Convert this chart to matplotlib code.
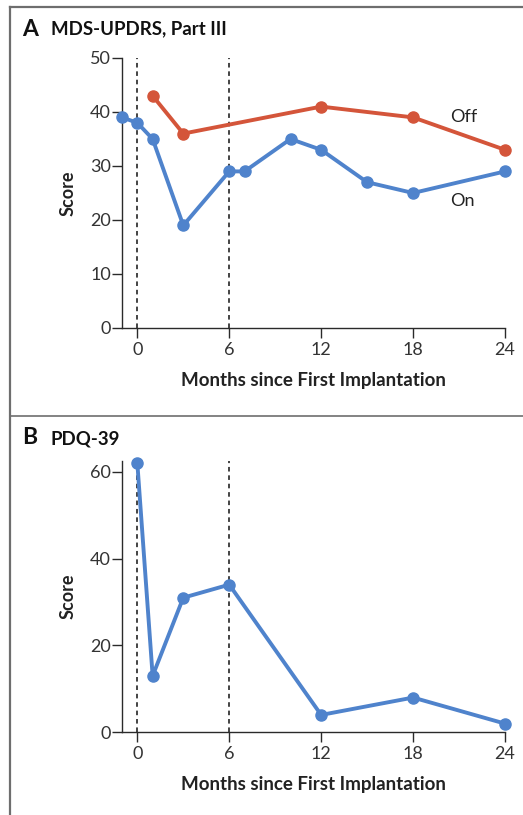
import matplotlib
matplotlib.use("Agg")
import matplotlib.pyplot as plt
from matplotlib.lines import Line2D

plt.rcParams['font.family'] = ['Lato', 'DejaVu Sans']

# Panel A data
a_on_months = [-1, 0, 1, 3, 6, 7, 10, 12, 15, 18, 24]
a_on_scores = [39, 38, 35, 19, 29, 29, 35, 33, 27, 25, 29]
a_off_months = [1, 3, 12, 18, 24]
a_off_scores = [43, 36, 41, 39, 33]
a_yticks = [0, 10, 20, 30, 40, 50]

# Panel B data
b_months = [0, 1, 3, 6, 12, 18, 24]
b_scores = [62, 13, 31, 34, 4, 8, 2]
b_yticks = [0, 20, 40, 60]

xticks = [0, 6, 12, 18, 24]
vlines = [0, 6]

BLUE = '#4f83cc'
RED = '#d4553a'
DARK = '#2a2a2a'
BORDER = '#6e6e6e'

W, H = 523, 815
fig = plt.figure(figsize=(W / 100, H / 100), dpi=100)

def fx(px):
    return px / W

def fy(py):
    return 1 - py / H

# Figure frame lines
fig.add_artist(Line2D([fx(10), 1], [fy(7), fy(7)], color=BORDER, lw=1.6))
fig.add_artist(Line2D([fx(10), fx(10)], [fy(7), 0], color=BORDER, lw=1.6))
fig.add_artist(Line2D([fx(10), 1], [fy(416), fy(416)], color=BORDER, lw=1.2))

def style_axes(ax, yticks):
    for s in ['top', 'right']:
        ax.spines[s].set_visible(False)
    for s in ['left', 'bottom']:
        ax.spines[s].set_color(DARK)
        ax.spines[s].set_linewidth(1.0)
    ax.set_xticks(xticks)
    ax.set_yticks(yticks)
    ax.tick_params(axis='both', direction='out', length=7, width=1.0,
                   color=DARK, labelcolor='#333333', labelsize=13, pad=1)
    ax.tick_params(axis='x', pad=3)
    ax.set_xlabel('Months since First Implantation', fontsize=13.5,
                  fontweight='bold', color='#222222', labelpad=10)
    ax.set_ylabel('Score', fontsize=13, fontweight='bold', color='#222222',
                  labelpad=10)

# Panel A
axA = fig.add_axes([fx(122), fy(328), fx(505) - fx(122), fy(58) - fy(328)])
axA.set_xlim(-1, 24)
axA.set_ylim(0, 50)
for v in vlines:
    axA.plot([v, v], [0, 50], color='#111111', lw=1.1, ls=(0, (3, 2.5)),
             zorder=1, clip_on=False)
axA.plot(a_off_months, a_off_scores, color=RED, lw=2.8, marker='o', ms=8,
         clip_on=False, zorder=3)
axA.plot(a_on_months, a_on_scores, color=BLUE, lw=2.8, marker='o', ms=8,
         clip_on=False, zorder=3)
axA.text(20.4, 39.1, 'Off', fontsize=13, color='#222222', va='center', ha='left')
axA.text(20.4, 23.5, 'On', fontsize=13, color='#222222', va='center', ha='left')
style_axes(axA, a_yticks)

fig.text(fx(22), fy(29), 'A', fontsize=16.5, fontweight='bold', color='#111111',
         va='center', ha='left')
fig.text(fx(51), fy(29), 'MDS-UPDRS, Part III', fontsize=13.4, fontweight='bold',
         color='#111111', va='center', ha='left')

# Panel B
axB = fig.add_axes([fx(122), fy(732.3), fx(505) - fx(122), fy(460.9) - fy(732.3)])
axB.set_xlim(-1, 24)
axB.set_ylim(0, 62.5)
for v in vlines:
    axB.plot([v, v], [0, 62.5], color='#111111', lw=1.1, ls=(0, (3, 2.5)),
             zorder=1, clip_on=False)
axB.plot(b_months, b_scores, color=BLUE, lw=2.8, marker='o', ms=8,
         clip_on=False, zorder=3)
style_axes(axB, b_yticks)

fig.text(fx(22), fy(438), 'B', fontsize=16.5, fontweight='bold', color='#111111',
         va='center', ha='left')
fig.text(fx(51), fy(439), 'PDQ-39', fontsize=13.4, fontweight='bold',
         color='#111111', va='center', ha='left')

fig.savefig('out.png', dpi=100, facecolor='white')
